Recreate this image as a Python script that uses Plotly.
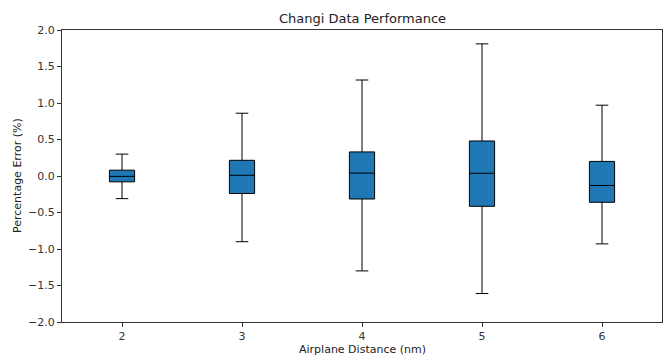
import plotly.graph_objects as go

distances = [2, 3, 4, 5, 6]
lower_whisker = [-0.31, -0.90, -1.30, -1.61, -0.93]
q1 = [-0.08, -0.24, -0.315, -0.415, -0.36]
median = [-0.005, 0.01, 0.04, 0.037, -0.13]
q3 = [0.08, 0.215, 0.33, 0.48, 0.20]
upper_whisker = [0.30, 0.86, 1.315, 1.81, 0.97]

fig = go.Figure()
fig.add_trace(go.Box(
    x=distances,
    lowerfence=lower_whisker,
    q1=q1,
    median=median,
    q3=q3,
    upperfence=upper_whisker,
    width=0.21,
    whiskerwidth=0.5,
    fillcolor="#1f77b4",
    line=dict(color="black", width=1),
    showlegend=False,
    hoverinfo="skip",
))

axis_common = dict(
    showline=True, linecolor="#333333", linewidth=1, mirror=True,
    ticks="outside", ticklen=4, tickcolor="#333333",
    showgrid=False, zeroline=False, automargin=False,
    tickfont=dict(size=11, color="#333333"),
)

fig.update_layout(
    width=665, height=356,
    margin=dict(l=62, r=3, t=30, b=34, autoexpand=False),
    paper_bgcolor="white", plot_bgcolor="white",
    font=dict(family="DejaVu Sans", color="#222222"),
    hovermode=False,
    xaxis=dict(range=[1.5, 6.5], tickmode="array", tickvals=distances,
               ticktext=[str(d) for d in distances], **axis_common),
    yaxis=dict(range=[-2.0, 2.0], tickmode="linear", tick0=-2.0, dtick=0.5,
               tickformat=".1f", **axis_common),
    annotations=[
        dict(text="Changi Data Performance", xref="paper", yref="paper",
             x=0.5, y=1, xanchor="center", yanchor="middle", yshift=12,
             showarrow=False, font=dict(size=13, color="#222222")),
        dict(text="Airplane Distance (nm)", xref="paper", yref="paper",
             x=0.5, y=0, xanchor="center", yanchor="middle", yshift=-27,
             showarrow=False, font=dict(size=11, color="#222222")),
        dict(text="Percentage Error (%)", xref="paper", yref="paper",
             x=0, y=0.5, xanchor="center", yanchor="middle", xshift=-45,
             textangle=-90, showarrow=False, font=dict(size=11, color="#222222")),
    ],
)

post = ("document.body.style.margin='0';document.body.style.padding='0';"
        "document.body.style.overflow='hidden';"
        "Plotly.relayout('{plot_id}', {width: 665, height: 356});")

fig.write_html("out.html", post_script=post,
               config={"responsive": False, "displayModeBar": False, "staticPlot": True})
